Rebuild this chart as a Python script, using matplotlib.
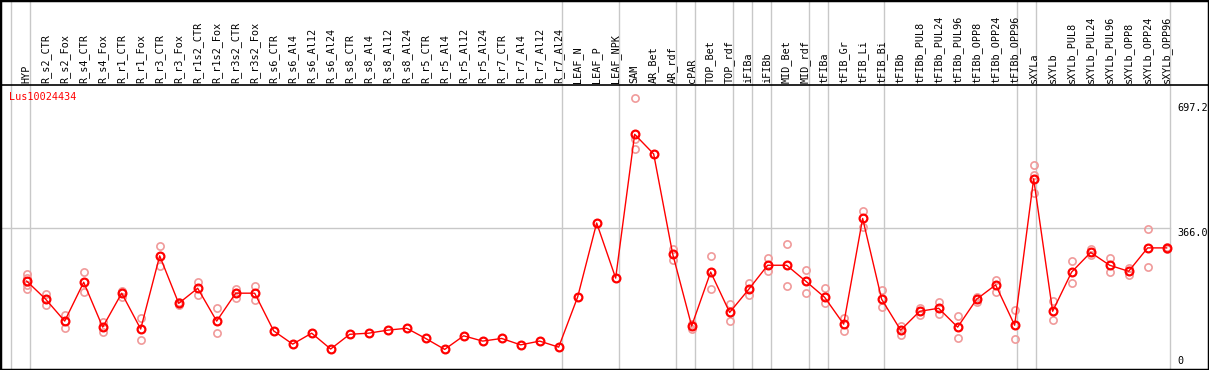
import numpy as np
import matplotlib
matplotlib.use('Agg')
import matplotlib.pyplot as plt

# sample names, in plot order
samples = [
	'HYP',
	'R_s2_CTR', 'R_s2_Fox', 'R_s4_CTR', 'R_s4_Fox', 'R_r1_CTR', 'R_r1_Fox',
	'R_r3_CTR', 'R_r3_Fox', 'R_r1s2_CTR', 'R_r1s2_Fox', 'R_r3s2_CTR', 'R_r3s2_Fox',
	'R_s6_CTR', 'R_s6_Al4', 'R_s6_Al12', 'R_s6_Al24',
	'R_s8_CTR', 'R_s8_Al4', 'R_s8_Al12', 'R_s8_Al24',
	'R_r5_CTR', 'R_r5_Al4', 'R_r5_Al12', 'R_r5_Al24',
	'R_r7_CTR', 'R_r7_Al4', 'R_r7_Al12', 'R_r7_Al24',
	'LEAF_N', 'LEAF_P', 'LEAF_NPK',
	'SAM', 'AR_Bet', 'AR_rdf',
	'cPAR',
	'TOP_Bet', 'TOP_rdf',
	'iFIBa',
	'iFIBb',
	'MID_Bet', 'MID_rdf',
	'tFIBa',
	'tFIB_Gr', 'tFIB_Li', 'tFIB_Bi',
	'tFIBb', 'tFIBb_PUL8', 'tFIBb_PUL24', 'tFIBb_PUL96', 'tFIBb_OPP8', 'tFIBb_OPP24', 'tFIBb_OPP96',
	'sXYLa',
	'sXYLb', 'sXYLb_PUL8', 'sXYLb_PUL24', 'sXYLb_PUL96', 'sXYLb_OPP8', 'sXYLb_OPP24', 'sXYLb_OPP96',
]
# how many samples in each tissue group (separator lines)
group_sizes = [1, 28, 3, 3, 1, 2, 1, 1, 2, 1, 3, 7, 1, 7]

gene = 'Lus10024434'

# mean expression per sample
means = [
	225,
	177, 119, 222, 103, 193, 98, 292, 166, 206, 119, 193, 193,
	93, 58, 87, 45,
	84, 87, 95, 100,
	73, 44, 80, 66,
	73, 56, 66, 50,
	183, 379, 233,
	614, 562, 297,
	106,
	249, 142,
	203,
	267,
	267, 225,
	182,
	111, 391, 177,
	95, 145, 153, 103, 177, 215, 108,
	496,
	145, 249, 301, 267, 251, 313, 313,
]

# replicate values (empty where hidden under the mean)
replicates = [
	[244, 233, 215, 204],
	[191, 161], [135, 102], [248, 195], [117, 91], [200, 184], [126, 68],
	[318, 265], [170, 162], [223, 189], [153, 87], [205, 179], [211, 175],
	[], [], [], [],
	[], [], [], [],
	[], [], [], [],
	[], [], [], [],
	[], [], [],
	[709, 602, 575], [], [310, 281],
	[97, 111],
	[292, 203], [164, 120],
	[220, 189],
	[286, 251],
	[323, 211], [254, 193],
	[206, 168],
	[128, 93], [411, 369], [201, 157],
	[106, 82], [154, 134], [169, 137], [132, 73], [184, 170], [228, 197], [148, 71],
	[532, 506, 458],
	[172, 121], [278, 219], [310, 294], [286, 248], [261, 241], [363, 262], [316, 310],
]

y_ticks = [697.2, 366.0, 0]

x = np.arange(len(samples))

fig = plt.figure(figsize=(12.09, 3.70), dpi=100)
ax = fig.add_axes([0, 0, 1, 1])
ax.set_xlim(-1.405, 62.23)
ax.set_ylim(-10.6, 970)
ax.set_xticks([])
ax.set_yticks([])
for s in ax.spines.values():
	s.set_linewidth(2.5)
	s.set_color('black')

mono = 'DejaVu Sans Mono'
grey = '#c8c8c8'

# group separators, running through the label band too
starts = np.cumsum([0] + group_sizes[:-1])
bounds = list(starts - 0.85) + [len(samples) - 1 + 0.175]
for b in bounds:
	ax.axvline(b, color=grey, lw=1.0, zorder=1)

# reference line at the middle tick, stops at last separator
ax.plot([ax.get_xlim()[0], bounds[-1]], [366.0, 366.0], color=grey, lw=1.0, zorder=1)

# label band border
label_base = 744.7
ax.axhline(label_base, color='black', lw=1.2, zorder=2)

for i, name in enumerate(samples):
	ax.text(i, label_base + 6, name, rotation=90, ha='center', va='bottom',
			fontsize=7.3, family=mono, color='black')

# replicates
for i, reps in enumerate(replicates):
	if reps:
		ax.plot([i] * len(reps), reps, linestyle='none', marker='o', ms=5.2,
				mfc='none', mec='#f09a9a', mew=1.2, zorder=3)

# means
ax.plot(x, means, color='red', lw=1, marker='o', ms=5.6, mfc='none',
		mec='red', mew=1.6, zorder=4)

ax.text(-0.93, 713, gene, color='red', fontsize=7.3, family=mono,
		ha='left', va='center')

# value labels on the right
for t in y_ticks:
	lab = '0' if t == 0 else '%.1f' % t
	va = 'bottom' if t == 0 else 'top'
	ax.text(60.59, t, lab, fontsize=7.3, family=mono, ha='left', va=va)

fig.savefig('out.png', dpi=100)
